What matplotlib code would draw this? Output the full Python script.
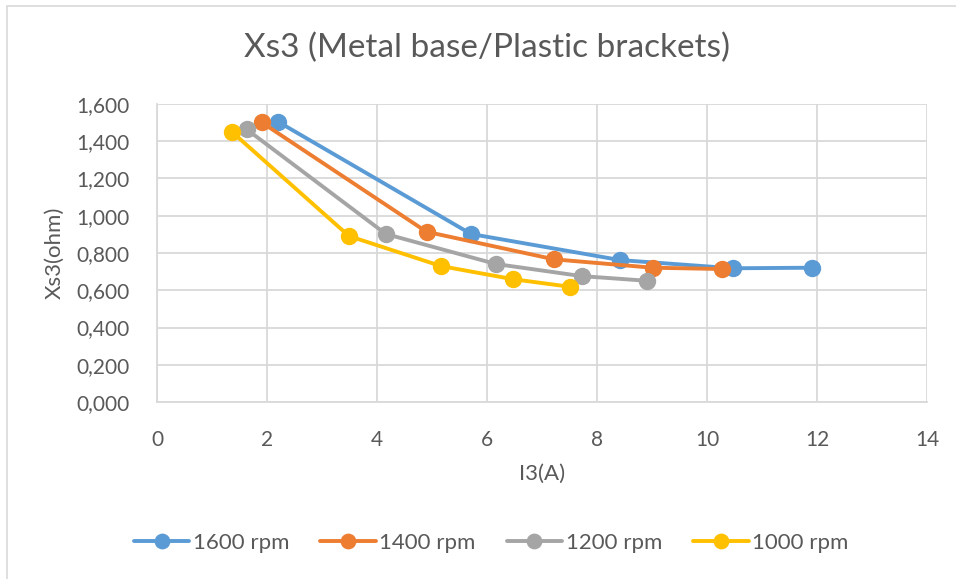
import matplotlib
matplotlib.use("Agg")
import matplotlib.pyplot as plt
from matplotlib.ticker import FuncFormatter
from matplotlib.patches import Rectangle

plt.rcParams['font.family'] = ['Lato', 'DejaVu Sans']

# Current I3 (A) and reactance Xs3 (ohm) per speed
i3_1600 = [2.20, 5.71, 8.42, 10.47, 11.91]
xs3_1600 = [1.505, 0.902, 0.762, 0.718, 0.721]

i3_1400 = [1.90, 4.90, 7.22, 9.01, 10.28]
xs3_1400 = [1.502, 0.914, 0.766, 0.721, 0.714]

i3_1200 = [1.63, 4.16, 6.16, 7.72, 8.90]
xs3_1200 = [1.464, 0.902, 0.741, 0.676, 0.651]

i3_1000 = [1.36, 3.49, 5.16, 6.48, 7.50]
xs3_1000 = [1.451, 0.891, 0.730, 0.659, 0.619]

labels = ["1600 rpm", "1400 rpm", "1200 rpm", "1000 rpm"]
colors = ["#5B9BD5", "#ED7D31", "#A5A5A5", "#FFC000"]

W, H = 956, 579
fig = plt.figure(figsize=(W / 100, H / 100), dpi=100)
ax = fig.add_axes([157 / W, 1 - 402 / H, (927 - 157) / W, (402 - 104) / H])

series = [(i3_1600, xs3_1600), (i3_1400, xs3_1400),
          (i3_1200, xs3_1200), (i3_1000, xs3_1000)]
for (x, y), lab, c in zip(series, labels, colors):
    ax.plot(x, y, color=c, lw=2.8, marker='o', ms=11.5, label=lab,
            solid_capstyle='round', zorder=3)

ax.set_xlim(0, 14)
ax.set_ylim(0, 1.6)
ax.set_xticks(range(0, 15, 2))
ax.set_yticks([i * 0.2 for i in range(9)])
ax.yaxis.set_major_formatter(FuncFormatter(lambda v, p: f"{v:.3f}".replace('.', ',')))

grid_c = "#D9D9D9"
ax.grid(True, color=grid_c, lw=1.3)
ax.set_axisbelow(True)
for s in ax.spines.values():
    s.set_visible(False)
for side in ('left', 'bottom'):
    ax.spines[side].set_visible(True)
    ax.spines[side].set_color(grid_c)
    ax.spines[side].set_linewidth(1.3)

text_c = "#595959"
ax.tick_params(length=0, labelsize=15, colors=text_c)
ax.tick_params(axis='y', pad=20)
ax.tick_params(axis='x', pad=20)

ax.set_xlabel("I3(A)", fontsize=16, color=text_c, labelpad=10)
ax.set_ylabel("Xs3(ohm)", fontsize=16, color=text_c, labelpad=8)

fig.text(487 / W, 1 - 48 / H, "Xs3 (Metal base/Plastic brackets)",
         ha='center', va='center', fontsize=24, color=text_c)

fig.legend(loc='center', bbox_to_anchor=(491 / W, 1 - 543 / H), ncol=4,
           frameon=False, fontsize=16, labelcolor=text_c,
           handlelength=2.5, handletextpad=0.15, columnspacing=1.4,
           markerscale=0.9)

fig.patches.append(Rectangle((7 / W, -0.01), 1.0, 1 - 5.5 / H + 0.01,
                             transform=fig.transFigure, fill=False,
                             edgecolor="#D9D9D9", lw=1.2))

fig.savefig("out.png", dpi=100)
